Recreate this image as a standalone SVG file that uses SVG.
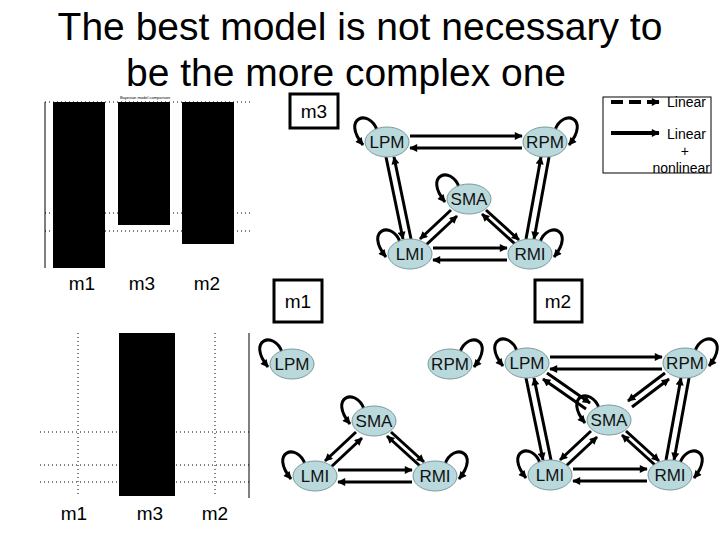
<svg xmlns="http://www.w3.org/2000/svg" width="720" height="540" viewBox="0 0 720 540">
<defs>
<marker id="ah" viewBox="0 0 10 10" refX="9" refY="5" markerWidth="10" markerHeight="8" markerUnits="userSpaceOnUse" orient="auto"><path d="M0 0L10 5L0 10z" fill="#000"/></marker>
<style>
.e{stroke:#000;stroke-width:3;fill:none;marker-end:url(#ah)}
.n ellipse{fill:#b9d9dc;stroke:#7a9a9c;stroke-width:1}
.n text{font-family:"Liberation Sans",Arial,sans-serif;font-size:17px;text-anchor:middle;fill:#111}
.lbl{font-family:"Liberation Sans",Arial,sans-serif;font-size:19px;text-anchor:middle}
.box{fill:#fff;stroke:#000;stroke-width:3}
.grid{stroke:#000;stroke-width:1;stroke-dasharray:1 3}
</style>
</defs>
<rect width="720" height="540" fill="#fff"/>
<text x="360" y="40" font-family="Liberation Sans,Arial,sans-serif" font-size="39" text-anchor="middle">The best model is not necessary to</text>
<text x="346" y="86" font-family="Liberation Sans,Arial,sans-serif" font-size="39" text-anchor="middle">be the more complex one</text>

<g id="chart-top">
<text x="145" y="99" font-family="Liberation Sans,Arial,sans-serif" font-size="4" text-anchor="middle">Bayesian model comparison</text>
<line x1="45" y1="102" x2="45" y2="268" stroke="#000"/>
<line class="grid" x1="45" y1="102" x2="250" y2="102"/>
<line class="grid" x1="45" y1="213" x2="250" y2="213"/>
<line class="grid" x1="45" y1="231" x2="250" y2="231"/>
<rect x="53" y="102" width="52" height="166" fill="#000"/>
<rect x="118" y="102" width="52" height="123" fill="#000"/>
<rect x="182" y="102" width="52" height="142" fill="#000"/>
<text class="lbl" x="82" y="290">m1</text><text class="lbl" x="142" y="290">m3</text><text class="lbl" x="207" y="290">m2</text>
</g>
<g id="chart-bottom">
<line class="grid" x1="40" y1="432" x2="249" y2="432"/>
<line class="grid" x1="40" y1="465" x2="249" y2="465"/>
<line class="grid" x1="40" y1="482" x2="249" y2="482"/>
<line class="grid" x1="78" y1="333" x2="78" y2="496"/>
<line class="grid" x1="215" y1="333" x2="215" y2="496"/>
<line x1="249" y1="333" x2="249" y2="498" stroke="#000"/>
<rect x="119" y="333" width="56" height="163" fill="#000"/>
<text class="lbl" x="74" y="520">m1</text><text class="lbl" x="150" y="520">m3</text><text class="lbl" x="215" y="520">m2</text>
</g>

<g id="legend">
<rect x="603" y="97" width="108" height="76" fill="#fff" stroke="#000"/>
<line x1="611" y1="102" x2="659" y2="102" stroke="#000" stroke-width="4" stroke-dasharray="12 6" marker-end="url(#ah)"/>
<line x1="611" y1="133" x2="659" y2="133" stroke="#000" stroke-width="4" marker-end="url(#ah)"/>
<g font-family="Liberation Sans,Arial,sans-serif" font-size="14" text-anchor="end">
<text x="706" y="107">Linear</text><text x="706" y="139">Linear</text><text x="689" y="156">+</text><text x="710" y="173">nonlinear</text></g>
</g>

<g id="label-m3"><rect class="box" x="290" y="94" width="48" height="34"/><text class="lbl" x="314" y="118">m3</text></g>
<g id="label-m1"><rect class="box" x="274" y="280" width="48" height="42"/><text class="lbl" x="298" y="308">m1</text></g>
<g id="label-m2"><rect class="box" x="535" y="280" width="47" height="42"/><text class="lbl" x="558" y="308">m2</text></g>

<g id="m3-connectors">
<line class="e" x1="410" y1="136" x2="522" y2="136"/><line class="e" x1="522" y1="148" x2="410" y2="148"/>
<line class="e" x1="386" y1="157" x2="403" y2="239"/><line class="e" x1="411" y1="239" x2="394" y2="157"/>
<line class="e" x1="549" y1="157" x2="534" y2="239"/><line class="e" x1="526" y1="239" x2="541" y2="157"/>
<line class="e" x1="451" y1="210" x2="420" y2="239"/><line class="e" x1="426" y1="245" x2="457" y2="216"/>
<line class="e" x1="486" y1="210" x2="519" y2="240"/><line class="e" x1="515" y1="244" x2="482" y2="214"/>
<line class="e" x1="433" y1="248" x2="507" y2="248"/><line class="e" x1="507" y1="260" x2="433" y2="260"/>
<path class="e" transform="translate(387,142)" d="M-10-12C-18-34-46-24-24 3"/>
<path class="e" transform="translate(545,142)" d="M10-12C18-34 46-24 24 3"/>
<path class="e" transform="translate(469,199)" d="M-10-12C-18-34-46-24-24 3"/>
<path class="e" transform="translate(410,254)" d="M-10-12C-18-34-46-24-24 3"/>
<path class="e" transform="translate(530,254)" d="M10-12C18-34 46-24 24 3"/>
</g>
<g id="m3-LPM" class="n"><ellipse cx="387" cy="142" rx="22" ry="15"/><text x="387" y="148">LPM</text></g>
<g id="m3-RPM" class="n"><ellipse cx="545" cy="142" rx="22" ry="15"/><text x="545" y="148">RPM</text></g>
<g id="m3-SMA" class="n"><ellipse cx="469" cy="199" rx="22" ry="15"/><text x="469" y="205">SMA</text></g>
<g id="m3-LMI" class="n"><ellipse cx="410" cy="254" rx="22" ry="15"/><text x="410" y="260">LMI</text></g>
<g id="m3-RMI" class="n"><ellipse cx="530" cy="254" rx="22" ry="15"/><text x="530" y="260">RMI</text></g>

<g id="m1-connectors" transform="translate(-95,222)">
<line class="e" x1="451" y1="210" x2="420" y2="239"/><line class="e" x1="426" y1="245" x2="457" y2="216"/>
<line class="e" x1="486" y1="210" x2="519" y2="240"/><line class="e" x1="515" y1="244" x2="482" y2="214"/>
<line class="e" x1="433" y1="248" x2="507" y2="248"/><line class="e" x1="507" y1="260" x2="433" y2="260"/>
<path class="e" transform="translate(387,142)" d="M-10-12C-18-34-46-24-24 3"/>
<path class="e" transform="translate(545,142)" d="M10-12C18-34 46-24 24 3"/>
<path class="e" transform="translate(469,199)" d="M-10-12C-18-34-46-24-24 3"/>
<path class="e" transform="translate(410,254)" d="M-10-12C-18-34-46-24-24 3"/>
<path class="e" transform="translate(530,254)" d="M10-12C18-34 46-24 24 3"/>
</g>
<g transform="translate(-95,222)">
<g id="m1-LPM" class="n"><ellipse cx="387" cy="142" rx="22" ry="15"/><text x="387" y="148">LPM</text></g>
<g id="m1-RPM" class="n"><ellipse cx="545" cy="142" rx="22" ry="15"/><text x="545" y="148">RPM</text></g>
<g id="m1-SMA" class="n"><ellipse cx="469" cy="199" rx="22" ry="15"/><text x="469" y="205">SMA</text></g>
<g id="m1-LMI" class="n"><ellipse cx="410" cy="254" rx="22" ry="15"/><text x="410" y="260">LMI</text></g>
<g id="m1-RMI" class="n"><ellipse cx="530" cy="254" rx="22" ry="15"/><text x="530" y="260">RMI</text></g>
</g>

<g id="m2-connectors" transform="translate(140,221)">
<line class="e" x1="410" y1="136" x2="522" y2="136"/><line class="e" x1="522" y1="148" x2="410" y2="148"/>
<line class="e" x1="386" y1="157" x2="403" y2="239"/><line class="e" x1="411" y1="239" x2="394" y2="157"/>
<line class="e" x1="549" y1="157" x2="534" y2="239"/><line class="e" x1="526" y1="239" x2="541" y2="157"/>
<line class="e" x1="451" y1="210" x2="420" y2="239"/><line class="e" x1="426" y1="245" x2="457" y2="216"/>
<line class="e" x1="486" y1="210" x2="519" y2="240"/><line class="e" x1="515" y1="244" x2="482" y2="214"/>
<line class="e" x1="433" y1="248" x2="507" y2="248"/><line class="e" x1="507" y1="260" x2="433" y2="260"/>
<line class="e" x1="407" y1="152" x2="450" y2="182"/><line class="e" x1="446" y1="188" x2="403" y2="158"/>
<line class="e" x1="525" y1="152" x2="488" y2="180"/><line class="e" x1="492" y1="186" x2="529" y2="158"/>
<path class="e" transform="translate(387,142)" d="M-10-12C-18-34-46-24-24 3"/>
<path class="e" transform="translate(545,142)" d="M10-12C18-34 46-24 24 3"/>
<path class="e" transform="translate(469,199)" d="M-10-12C-18-34-46-24-24 3"/>
<path class="e" transform="translate(410,254)" d="M-10-12C-18-34-46-24-24 3"/>
<path class="e" transform="translate(530,254)" d="M10-12C18-34 46-24 24 3"/>
</g>
<g transform="translate(140,221)">
<g id="m2-LPM" class="n"><ellipse cx="387" cy="142" rx="22" ry="15"/><text x="387" y="148">LPM</text></g>
<g id="m2-RPM" class="n"><ellipse cx="545" cy="142" rx="22" ry="15"/><text x="545" y="148">RPM</text></g>
<g id="m2-SMA" class="n"><ellipse cx="469" cy="199" rx="22" ry="15"/><text x="469" y="205">SMA</text></g>
<g id="m2-LMI" class="n"><ellipse cx="410" cy="254" rx="22" ry="15"/><text x="410" y="260">LMI</text></g>
<g id="m2-RMI" class="n"><ellipse cx="530" cy="254" rx="22" ry="15"/><text x="530" y="260">RMI</text></g>
</g>
</svg>
